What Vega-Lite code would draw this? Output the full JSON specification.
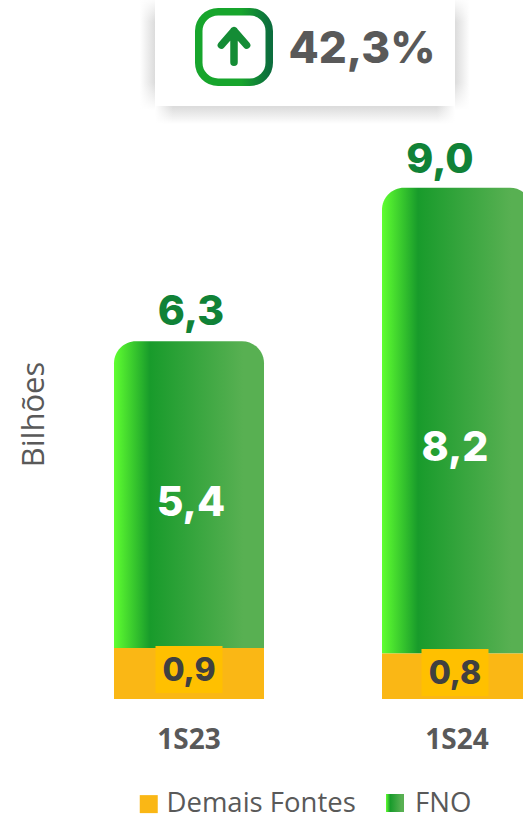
{
"$schema":"https://vega.github.io/schema/vega-lite/v6.json",
"width":523,"height":699,
"autosize":{"type":"none"},
"padding":{"left":0,"top":0,"right":0,"bottom":115},
"background":"white",
"config":{"view":{"stroke":null},"locale":{"number":{"decimal":",","thousands":".","grouping":[3],"currency":["R$",""]}}},
"data":{"values":[
{"periodo":"1S23","serie":"Demais Fontes","valor":0.9},
{"periodo":"1S23","serie":"FNO","valor":5.4},
{"periodo":"1S24","serie":"Demais Fontes","valor":0.8},
{"periodo":"1S24","serie":"FNO","valor":8.2}
]},
"transform":[{"stack":"valor","groupby":["periodo"],"sort":[{"field":"serie","order":"ascending"}],"as":["inicio","fim"]}],
"encoding":{
"x":{"field":"periodo","type":"nominal","scale":{"domain":["1S23","1S24"],"range":[55,591],"paddingInner":0,"paddingOuter":0},
"axis":{"title":null,"orient":"bottom","domain":false,"ticks":false,"grid":false,"labelAngle":0,"labelBaseline":"middle","labelPadding":41,"labelFont":"Open Sans","labelFontWeight":"bold","labelFontSize":28,"labelColor":"#595959","labelOverlap":false}}
},
"layer":[
{"mark":{"type":"bar","size":150,"cornerRadiusTopLeft":22,"cornerRadiusTopRight":22,
"fill":{"gradient":"linear","x1":0,"y1":0,"x2":1,"y2":0,"stops":[{"offset":0,"color":"#5FFF30"},{"offset":0.24,"color":"#189B2B"},{"offset":0.86,"color":"#58B052"},{"offset":1,"color":"#58B052"}]}},
"transform":[{"filter":"datum.serie==='FNO'"}],
"encoding":{
"y":{"field":"inicio","type":"quantitative","scale":{"domain":[0,12.306],"nice":false,"zero":false},
"axis":{"title":"Bilhões","domain":false,"ticks":false,"labels":false,"grid":false,"titleFont":"Open Sans","titleFontWeight":"normal","titleFontSize":31,"titleColor":"#595959","titleAngle":270,"titleBaseline":"alphabetic","titleAlign":"center","titleX":43,"titleY":414}},
"y2":{"field":"fim"}
}},
{"mark":{"type":"bar","size":150},
"transform":[{"filter":"datum.serie==='Demais Fontes'"}],
"encoding":{"y":{"field":"inicio","type":"quantitative"},"y2":{"field":"fim"},
"color":{"field":"serie","type":"nominal",
"scale":{"domain":["Demais Fontes","FNO"],"range":["#FAB715","rgba(0,0,0,0)"]},
"legend":{"title":null,"orient":"none","legendX":135,"legendY":790,"direction":"horizontal","symbolType":"square","symbolSize":324,"symbolStrokeWidth":0,"labelFont":"Open Sans","labelFontSize":27.5,"labelColor":"#595959","labelLimit":300,"columnPadding":27.5,"labelOffset":4,"padding":0}}}},
{"mark":{"type":"point","shape":"M-1,-1H1V1H-1Z","size":324,"filled":true,"opacity":1,"strokeWidth":0,"xOffset":-62,
"fill":{"gradient":"linear","x1":0,"y1":0,"x2":1,"y2":0,"stops":[{"offset":0,"color":"#5FFF30"},{"offset":0.24,"color":"#189B2B"},{"offset":0.86,"color":"#58B052"},{"offset":1,"color":"#58B052"}]}},
"transform":[{"filter":"datum.serie==='FNO' && datum.periodo==='1S24'"}],
"encoding":{"y":{"datum":-1.831,"type":"quantitative"}}},
{"mark":{"type":"text","font":"Inter","fontWeight":800,"fontSize":41,"color":"#108237","baseline":"middle","dx":2,"dy":-28},
"transform":[{"filter":"datum.serie==='FNO' && datum.periodo==='1S23'"}],
"encoding":{"y":{"field":"fim","type":"quantitative"},"text":{"field":"fim","type":"quantitative","format":".1f"}}},
{"mark":{"type":"text","font":"Inter","fontWeight":800,"fontSize":41,"color":"#108237","baseline":"middle","dx":-17,"dy":-27},
"transform":[{"filter":"datum.serie==='FNO' && datum.periodo==='1S24'"}],
"encoding":{"y":{"field":"fim","type":"quantitative"},"text":{"field":"fim","type":"quantitative","format":".1f"}}},
{"mark":{"type":"text","font":"Inter","fontWeight":800,"fontSize":41,"color":"white","baseline":"middle","dx":2},
"transform":[{"filter":"datum.serie==='FNO' && datum.periodo==='1S23'"}],
"encoding":{"y":{"datum":3.43,"type":"quantitative"},"text":{"field":"valor","type":"quantitative","format":".1f"}}},
{"mark":{"type":"text","font":"Inter","fontWeight":800,"fontSize":41,"color":"white","baseline":"middle","dx":-2},
"transform":[{"filter":"datum.serie==='FNO' && datum.periodo==='1S24'"}],
"encoding":{"y":{"datum":4.405,"type":"quantitative"},"text":{"field":"valor","type":"quantitative","format":".1f"}}},
{"transform":[{"filter":"datum.serie==='Demais Fontes' && datum.periodo==='1S23'"}],
"encoding":{"y":{"datum":0.52,"type":"quantitative"}},
"layer":[
{"mark":{"type":"point","shape":"M-1,-0.7H1V0.7H-1Z","size":4489,"filled":true,"fill":"#FFC000","opacity":1,"strokeWidth":0}},
{"mark":{"type":"text","font":"Inter","fontWeight":800,"fontSize":32,"color":"#404040","baseline":"middle","dy":2},"encoding":{"text":{"field":"valor","type":"quantitative","format":".1f"}}}
]},
{"transform":[{"filter":"datum.serie==='Demais Fontes' && datum.periodo==='1S24'"}],
"encoding":{"y":{"datum":0.466,"type":"quantitative"}},
"layer":[
{"mark":{"type":"point","shape":"M-1,-0.7H1V0.7H-1Z","size":4489,"filled":true,"fill":"#FFC000","opacity":1,"strokeWidth":0,"xOffset":-2}},
{"mark":{"type":"text","font":"Inter","fontWeight":800,"fontSize":32,"color":"#404040","baseline":"middle","dx":-2,"dy":1},"encoding":{"text":{"field":"valor","type":"quantitative","format":".1f"}}}
]},
{"data":{"values":[{"periodo":"1S23","variacao":0.423}]},
"transform":[],
"encoding":{"x":{"datum":"1S23","type":"nominal"}},
"layer":[
{"mark":{"type":"point","shape":"M-1,-0.3333H1V0.3333H-1Z","size":108900,"filled":true,"opacity":1,"strokeWidth":0,"xOffset":116,
"fill":{"gradient":"linear","x1":0,"y1":0,"x2":1,"y2":0,"stops":[{"offset":0,"color":"#ffffff"},{"offset":0.045,"color":"#dcdcdc"},{"offset":0.955,"color":"#dcdcdc"},{"offset":1,"color":"#ffffff"}]}},
"encoding":{"y":{"datum":11.338,"type":"quantitative"}}},
{"mark":{"type":"point","shape":"M-1,-0.3333H1V0.3333H-1Z","size":108900,"filled":true,"opacity":1,"strokeWidth":0,"xOffset":116,
"fill":{"gradient":"linear","x1":0,"y1":0,"x2":0,"y2":1,"stops":[{"offset":0,"color":"rgba(255,255,255,0.9)"},{"offset":0.2,"color":"rgba(255,255,255,0)"},{"offset":0.75,"color":"rgba(255,255,255,0)"},{"offset":1,"color":"rgba(255,255,255,1)"}]}},
"encoding":{"y":{"datum":11.338,"type":"quantitative"}}},
{"mark":{"type":"point","shape":"M-1,-0.0667H1V0.0667H-1Z","size":90000,"filled":true,"opacity":1,"strokeWidth":0,"xOffset":116,
"fill":{"gradient":"linear","x1":0,"y1":0,"x2":0,"y2":1,"stops":[{"offset":0,"color":"#dcdcdc"},{"offset":0.15,"color":"#dcdcdc"},{"offset":1,"color":"#ffffff"}]}},
"encoding":{"y":{"datum":10.3,"type":"quantitative"}}},
{"mark":{"type":"point","shape":"M-1,-0.0667H1V0.0667H-1Z","size":90000,"filled":true,"opacity":1,"strokeWidth":0,"xOffset":116,
"fill":{"gradient":"linear","x1":0,"y1":0,"x2":1,"y2":0,"stops":[{"offset":0,"color":"rgba(255,255,255,1)"},{"offset":0.06,"color":"rgba(255,255,255,0)"},{"offset":0.94,"color":"rgba(255,255,255,0)"},{"offset":1,"color":"rgba(255,255,255,1)"}]}},
"encoding":{"y":{"datum":10.3,"type":"quantitative"}}},
{"mark":{"type":"point","shape":"M-1,-0.3533H1V0.3533H-1Z","size":90000,"filled":true,"fill":"white","opacity":1,"strokeWidth":0,"xOffset":116},
"encoding":{"y":{"datum":11.373,"type":"quantitative"}}},
{"mark":{"type":"point","shape":"M-0.45,-1H0.45A0.55,0.55 0 0 1 1,-0.45V0.45A0.55,0.55 0 0 1 0.45,1H-0.45A0.55,0.55 0 0 1 -1,0.45V-0.45A0.55,0.55 0 0 1 -0.45,-1Z","size":4970,"filled":false,"opacity":1,"strokeWidth":7.5,"xOffset":45,
"stroke":{"gradient":"linear","x1":0,"y1":0,"x2":1,"y2":0,"stops":[{"offset":0,"color":"#17A52C"},{"offset":0.6,"color":"#17A52C"},{"offset":1,"color":"#0C6E3D"}]}},
"encoding":{"y":{"datum":11.48,"type":"quantitative"}}},
{"mark":{"type":"point","shape":"M0,0.85V-0.9M-0.7,-0.1L0,-0.9L0.7,-0.1","size":1296,"filled":false,"opacity":1,"strokeWidth":7.5,"strokeCap":"round","strokeJoin":"round","stroke":"#148C35","xOffset":45},
"encoding":{"y":{"datum":11.48,"type":"quantitative"}}},
{"mark":{"type":"text","font":"Inter","fontWeight":800,"fontSize":44,"color":"#595959","baseline":"middle","xOffset":173},
"encoding":{"y":{"datum":11.42,"type":"quantitative"},"text":{"field":"variacao","type":"quantitative","format":".1%"}}}
]}
]
}
